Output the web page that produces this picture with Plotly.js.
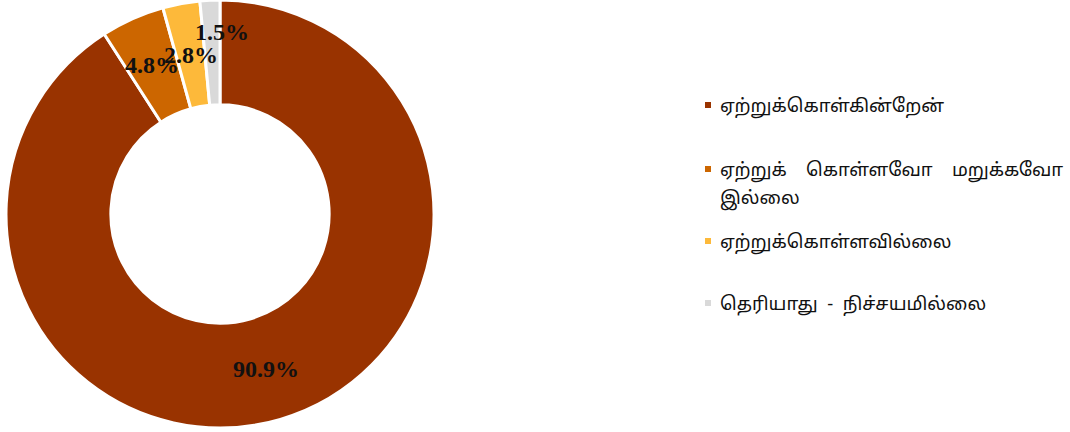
<!DOCTYPE html>
<html>
<head>
<meta charset="utf-8">
<script src="https://cdn.plot.ly/plotly-3.0.1.min.js"></script>
<style>html,body{margin:0;padding:0;background:#fff;}#chart{width:1070px;height:432px;}</style>
</head>
<body>
<div id="chart"></div>
<script>
var categories = [
  "ஏற்றுக்கொள்கின்றேன்",
  "ஏற்றுக்&nbsp;&nbsp;&nbsp;&nbsp;கொள்ளவோ&nbsp;&nbsp;&nbsp;&nbsp;மறுக்கவோ<br>இல்லை",
  "ஏற்றுக்கொள்ளவில்லை",
  "தெரியாது&nbsp;&nbsp;-&nbsp;&nbsp;நிச்சயமில்லை"
];
var values = [90.9, 4.8, 2.8, 1.5];
var colors = ["#993300", "#CC6600", "#FDB93A", "#D9D9D9"];

var W = 1070, H = 432;
var dom = {x: [6 / W, 434 / W], y: [4 / H, 1]};
var cx = (dom.x[0] + dom.x[1]) / 2 * W;
var cy = (1 - (dom.y[0] + dom.y[1]) / 2) * H;
var R = Math.min((dom.x[1] - dom.x[0]) * W, (dom.y[1] - dom.y[0]) * H) / 2;
var hole = 0.51;
var rMid = R * (1 + hole) / 2;

var total = values.reduce(function (a, b) { return a + b; }, 0);
var annotations = [];
var shapes = [];
var cum = 0;
var nudges = [{dx: 0, dy: 0}, {dx: -2, dy: -2}, {dx: 0, dy: 0}, {dx: 10, dy: -21}];
values.forEach(function (v, i) {
  var mid = (cum + v / 2) / total * 2 * Math.PI;
  cum += v;
  var px = cx + rMid * Math.sin(mid) + nudges[i].dx;
  var py = cy - rMid * Math.cos(mid) + nudges[i].dy;
  annotations.push({
    x: px / W, y: 1 - py / H, xref: "paper", yref: "paper",
    text: "<b>" + v.toFixed(1) + "%</b>", showarrow: false,
    xanchor: "center", yanchor: "middle",
    font: {family: "Liberation Serif, Times New Roman, serif", size: 24, color: "#111"}
  });
});

// Legend (drawn as shapes + annotations so spacing can follow the reference)
var legendRowY = [105, 169, 241, 303];
var legendLineGap = 29;
var legendSymX = 708, legendTextX = 718, sym = 3;
categories.forEach(function (lab, i) {
  var y0 = legendRowY[i];
  shapes.push({
    type: "rect", xref: "paper", yref: "paper",
    x0: (legendSymX - sym) / W, x1: (legendSymX + sym) / W,
    y0: 1 - (y0 - sym) / H, y1: 1 - (y0 + sym) / H,
    fillcolor: colors[i], line: {width: 0}
  });
  lab.split("<br>").forEach(function (line, j) {
    annotations.push({
      x: legendTextX / W, y: 1 - (y0 + j * legendLineGap) / H,
      xref: "paper", yref: "paper", xanchor: "left", yanchor: "middle",
      text: line, showarrow: false,
      font: {family: "Noto Sans, Noto Sans Tamil, sans-serif", size: 18.5, color: "#111"}
    });
  });
});

var trace = {
  type: "pie",
  labels: categories.map(function (c) { return c.replace(/&nbsp;/g, " ").replace("<br>", " "); }),
  values: values,
  hole: hole,
  sort: false,
  direction: "clockwise",
  rotation: 0,
  domain: dom,
  marker: {colors: colors, line: {color: "#ffffff", width: 3}},
  textinfo: "none",
  hoverinfo: "label+percent"
};

var layout = {
  width: W, height: H,
  margin: {l: 0, r: 0, t: 0, b: 0},
  paper_bgcolor: "#ffffff",
  showlegend: false,
  annotations: annotations,
  shapes: shapes
};

Plotly.newPlot("chart", [trace], layout, {displayModeBar: false, staticPlot: true});
</script>
</body>
</html>
